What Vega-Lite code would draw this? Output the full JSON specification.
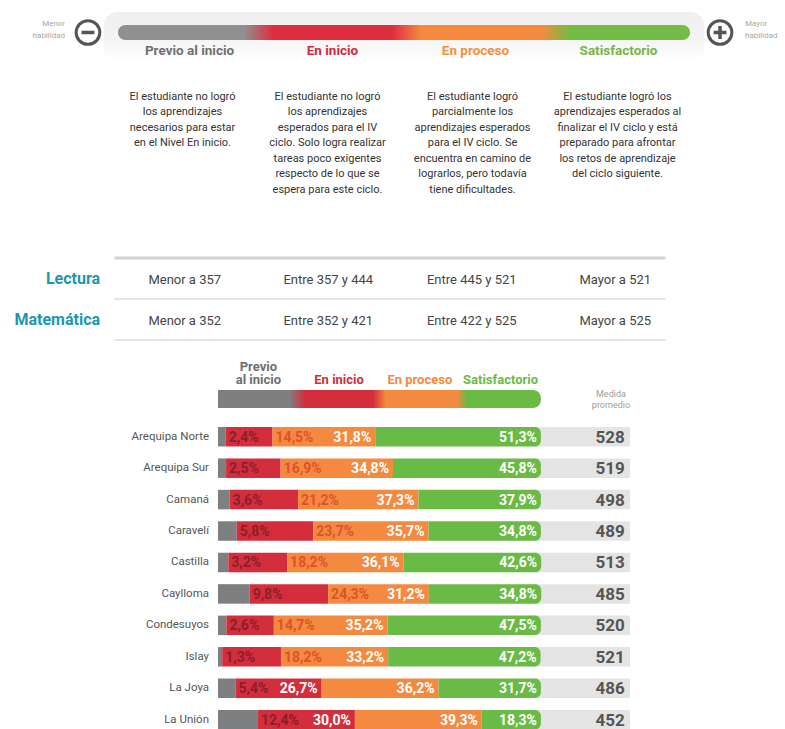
{
  "$schema": "https://vega.github.io/schema/vega-lite/v6.json",
  "padding": 0,
  "spacing": 0,
  "bounds": "flush",
  "background": "white",
  "config": {
    "view": {"stroke": null},
    "font": "Roboto, Liberation Sans, sans-serif"
  },
  "resolve": {"scale": {"x": "independent", "y": "independent", "color": "independent"}},
  "datasets": {
    "niveles": [
      {"nivel": "Previo al inicio", "orden": 0, "descripcion": "El estudiante no logró\nlos aprendizajes\nnecesarios para estar\nen el Nivel En inicio."},
      {"nivel": "En inicio", "orden": 1, "descripcion": "El estudiante no logró\nlos aprendizajes\nesperados para el IV\nciclo. Solo logra realizar\ntareas poco exigentes\nrespecto de lo que se\nespera para este ciclo."},
      {"nivel": "En proceso", "orden": 2, "descripcion": "El estudiante logró\nparcialmente los\naprendizajes esperados\npara el IV ciclo. Se\nencuentra en camino de\nlograrlos, pero todavía\ntiene dificultades."},
      {"nivel": "Satisfactorio", "orden": 3, "descripcion": "El estudiante logró los\naprendizajes esperados al\nfinalizar el IV ciclo y está\npreparado para afrontar\nlos retos de aprendizaje\ndel ciclo siguiente."}
    ],
    "umbrales": [
      {"area": "Lectura", "nivel": "Previo al inicio", "rango": "Menor a 357"},
      {"area": "Lectura", "nivel": "En inicio", "rango": "Entre 357 y 444"},
      {"area": "Lectura", "nivel": "En proceso", "rango": "Entre 445 y 521"},
      {"area": "Lectura", "nivel": "Satisfactorio", "rango": "Mayor a 521"},
      {"area": "Matemática", "nivel": "Previo al inicio", "rango": "Menor a 352"},
      {"area": "Matemática", "nivel": "En inicio", "rango": "Entre 352 y 421"},
      {"area": "Matemática", "nivel": "En proceso", "rango": "Entre 422 y 525"},
      {"area": "Matemática", "nivel": "Satisfactorio", "rango": "Mayor a 525"}
    ],
    "regiones": [
      {"region": "Arequipa Norte", "Previo al inicio": 2.4, "En inicio": 14.5, "En proceso": 31.8, "Satisfactorio": 51.3, "medida": 528},
      {"region": "Arequipa Sur", "Previo al inicio": 2.5, "En inicio": 16.9, "En proceso": 34.8, "Satisfactorio": 45.8, "medida": 519},
      {"region": "Camaná", "Previo al inicio": 3.6, "En inicio": 21.2, "En proceso": 37.3, "Satisfactorio": 37.9, "medida": 498},
      {"region": "Caravelí", "Previo al inicio": 5.8, "En inicio": 23.7, "En proceso": 35.7, "Satisfactorio": 34.8, "medida": 489},
      {"region": "Castilla", "Previo al inicio": 3.2, "En inicio": 18.2, "En proceso": 36.1, "Satisfactorio": 42.6, "medida": 513},
      {"region": "Caylloma", "Previo al inicio": 9.8, "En inicio": 24.3, "En proceso": 31.2, "Satisfactorio": 34.8, "medida": 485},
      {"region": "Condesuyos", "Previo al inicio": 2.6, "En inicio": 14.7, "En proceso": 35.2, "Satisfactorio": 47.5, "medida": 520},
      {"region": "Islay", "Previo al inicio": 1.3, "En inicio": 18.2, "En proceso": 33.2, "Satisfactorio": 47.2, "medida": 521},
      {"region": "La Joya", "Previo al inicio": 5.4, "En inicio": 26.7, "En proceso": 36.2, "Satisfactorio": 31.7, "medida": 486},
      {"region": "La Unión", "Previo al inicio": 12.4, "En inicio": 30.0, "En proceso": 39.3, "Satisfactorio": 18.3, "medida": 452}
    ]
  },
  "vconcat": [
    {
      "width": 785,
      "height": 75,
      "data": {"name": "niveles"},
      "transform": [{"calculate": "datum.orden + 0.5", "as": "centro"}],
      "layer": [
        {
          "transform": [{"filter": "datum.orden == 0"}],
          "mark": {"type": "rect", "cornerRadius": 14, "fill": {"gradient": "linear", "x1": 0, "y1": 0, "x2": 0, "y2": 1, "stops": [{"offset": 0, "color": "#efefef"}, {"offset": 0.6, "color": "#f5f5f5"}, {"offset": 1, "color": "#ffffff"}]}},
          "encoding": {
            "x": {"datum": -0.1, "type": "quantitative", "scale": {"domain": [0, 4], "range": [118, 690], "nice": false, "zero": false}, "axis": null},
            "x2": {"datum": 4.1},
            "y": {"datum": 12, "type": "quantitative", "scale": {"domain": [0, 75], "range": [0, 75], "nice": false, "zero": false}, "axis": null},
            "y2": {"datum": 62}
          }
        },
        {
          "transform": [{"filter": "datum.orden == 0"}],
          "mark": {"type": "rect", "cornerRadius": 7.5, "fill": {"gradient": "linear", "x1": 0, "y1": 0, "x2": 1, "y2": 0, "stops": [{"offset": 0, "color": "#8e9092"}, {"offset": 0.22, "color": "#8e9092"}, {"offset": 0.27, "color": "#de2f40"}, {"offset": 0.48, "color": "#de2f40"}, {"offset": 0.53, "color": "#f58a3f"}, {"offset": 0.74, "color": "#f58a3f"}, {"offset": 0.79, "color": "#74bc45"}, {"offset": 1, "color": "#74bc45"}]}},
          "encoding": {
            "x": {"datum": 0, "type": "quantitative"},
            "x2": {"datum": 4},
            "y": {"datum": 25, "type": "quantitative"},
            "y2": {"datum": 40}
          }
        },
        {
          "transform": [{"filter": "datum.orden == 0"}],
          "mark": {"type": "point", "shape": "circle", "size": 560, "filled": false, "fill": "white", "fillOpacity": 1, "stroke": "#555555", "strokeWidth": 3, "opacity": 1},
          "encoding": {
            "x": {"datum": -0.21, "type": "quantitative"},
            "y": {"datum": 32.5, "type": "quantitative"}
          }
        },
        {
          "transform": [{"filter": "datum.orden == 0"}],
          "mark": {"type": "point", "shape": "circle", "size": 560, "filled": false, "fill": "white", "fillOpacity": 1, "stroke": "#555555", "strokeWidth": 3, "opacity": 1},
          "encoding": {
            "x": {"datum": 4.21, "type": "quantitative"},
            "y": {"datum": 32.5, "type": "quantitative"}
          }
        },
        {
          "transform": [{"filter": "datum.orden == 0"}],
          "mark": {"type": "rule", "stroke": "#555555", "strokeWidth": 3.5},
          "encoding": {
            "x": {"datum": -0.255, "type": "quantitative"},
            "x2": {"datum": -0.165},
            "y": {"datum": 32.5, "type": "quantitative"}
          }
        },
        {
          "transform": [{"filter": "datum.orden == 0"}],
          "mark": {"type": "rule", "stroke": "#555555", "strokeWidth": 3.5},
          "encoding": {
            "x": {"datum": 4.165, "type": "quantitative"},
            "x2": {"datum": 4.255},
            "y": {"datum": 32.5, "type": "quantitative"}
          }
        },
        {
          "transform": [{"filter": "datum.orden == 0"}],
          "mark": {"type": "rule", "stroke": "#555555", "strokeWidth": 3.5},
          "encoding": {
            "x": {"datum": 4.21, "type": "quantitative"},
            "y": {"datum": 26, "type": "quantitative"},
            "y2": {"datum": 39}
          }
        },
        {
          "transform": [{"filter": "datum.orden == 0"}],
          "mark": {"type": "text", "align": "right", "baseline": "middle", "fontSize": 8, "lineHeight": 12, "color": "#a8a8a8"},
          "encoding": {
            "x": {"datum": -0.37, "type": "quantitative"},
            "y": {"datum": 24, "type": "quantitative"},
            "text": {"value": ["Menor", "habilidad"]}
          }
        },
        {
          "transform": [{"filter": "datum.orden == 0"}],
          "mark": {"type": "text", "align": "left", "baseline": "middle", "fontSize": 8, "lineHeight": 12, "color": "#a8a8a8"},
          "encoding": {
            "x": {"datum": 4.385, "type": "quantitative"},
            "y": {"datum": 24, "type": "quantitative"},
            "text": {"value": ["Mayor", "habilidad"]}
          }
        },
        {
          "mark": {"type": "text", "align": "center", "baseline": "middle", "fontSize": 13.5, "fontWeight": "bold"},
          "encoding": {
            "x": {"field": "centro", "type": "quantitative"},
            "y": {"datum": 51, "type": "quantitative"},
            "text": {"field": "nivel"},
            "color": {"field": "nivel", "type": "nominal", "scale": {"domain": ["Previo al inicio", "En inicio", "En proceso", "Satisfactorio"], "range": ["#6f7072", "#d8283f", "#f5903f", "#78b44a"]}, "legend": null}
          }
        }
      ]
    },
    {
      "width": 785,
      "height": 170,
      "data": {"name": "niveles"},
      "transform": [{"calculate": "datum.orden + 0.5", "as": "centro"}],
      "mark": {"type": "text", "align": "center", "baseline": "top", "fontSize": 11, "lineHeight": 15.5, "lineBreak": "\n", "color": "#333333"},
      "encoding": {
        "x": {"field": "centro", "type": "quantitative", "scale": {"domain": [0, 4], "range": [110, 690], "nice": false, "zero": false}, "axis": null},
        "y": {"datum": 15.5, "type": "quantitative", "scale": {"domain": [0, 170], "range": [0, 170], "nice": false, "zero": false}, "axis": null},
        "text": {"field": "descripcion"}
      }
    },
    {
      "width": 785,
      "height": 100,
      "data": {"name": "umbrales"},
      "transform": [
        {"calculate": "indexof(['Previo al inicio','En inicio','En proceso','Satisfactorio'], datum.nivel)", "as": "orden"},
        {"calculate": "datum.orden + 0.5", "as": "centro"}
      ],
      "layer": [
        {
          "transform": [{"filter": "datum.orden == 0 && datum.area == 'Lectura'"}],
          "mark": {"type": "rule", "stroke": "#d2d2d2", "strokeWidth": 3},
          "encoding": {
            "x": {"datum": 0.01, "type": "quantitative", "scale": {"domain": [0, 4], "range": [113, 687], "nice": false, "zero": false}, "axis": null},
            "x2": {"datum": 3.85},
            "y": {"field": "area", "type": "nominal", "bandPosition": 0, "scale": {"domain": ["Lectura", "Matemática"], "range": [13, 95], "paddingInner": 0, "paddingOuter": 0}, "axis": null}
          }
        },
        {
          "transform": [{"filter": "datum.orden == 0"}],
          "mark": {"type": "rule", "stroke": "#dcdcdc", "strokeWidth": 1.5},
          "encoding": {
            "x": {"datum": 0.01, "type": "quantitative"},
            "x2": {"datum": 3.85},
            "y": {"field": "area", "type": "nominal", "bandPosition": 1}
          }
        },
        {
          "transform": [{"filter": "datum.orden == 0"}],
          "mark": {"type": "text", "align": "right", "baseline": "middle", "fontSize": 16, "fontWeight": "bold", "color": "#1b98ad"},
          "encoding": {
            "x": {"datum": -0.09, "type": "quantitative"},
            "y": {"field": "area", "type": "nominal"},
            "text": {"field": "area"}
          }
        },
        {
          "mark": {"type": "text", "align": "center", "baseline": "middle", "fontSize": 13, "color": "#454545", "dy": 1.5},
          "encoding": {
            "x": {"field": "centro", "type": "quantitative"},
            "y": {"field": "area", "type": "nominal"},
            "text": {"field": "rango"}
          }
        }
      ]
    },
    {
      "width": 785,
      "height": 75.8,
      "data": {"name": "niveles"},
      "transform": [
        {"calculate": "datum.orden * 25 + 12.5", "as": "centro"},
        {"calculate": "datum.orden == 0 ? ['Previo', 'al inicio'] : datum.nivel", "as": "rotulo"}
      ],
      "layer": [
        {
          "transform": [{"filter": "datum.orden == 0"}],
          "mark": {"type": "rect", "cornerRadiusTopRight": 8, "cornerRadiusBottomRight": 8, "fill": {"gradient": "linear", "x1": 0, "y1": 0, "x2": 1, "y2": 0, "stops": [{"offset": 0, "color": "#7d7f80"}, {"offset": 0.22, "color": "#7d7f80"}, {"offset": 0.27, "color": "#d42d3c"}, {"offset": 0.48, "color": "#d42d3c"}, {"offset": 0.52, "color": "#f48a3f"}, {"offset": 0.74, "color": "#f48a3f"}, {"offset": 0.77, "color": "#6aba46"}, {"offset": 1, "color": "#6aba46"}]}},
          "encoding": {
            "x": {"datum": 0, "type": "quantitative", "scale": {"domain": [0, 127.6], "range": [218, 630], "nice": false, "zero": false}, "axis": null},
            "x2": {"datum": 100},
            "y": {"datum": 45, "type": "quantitative", "scale": {"domain": [0, 75.8], "range": [0, 75.8], "nice": false, "zero": false}, "axis": null},
            "y2": {"datum": 63}
          }
        },
        {
          "transform": [{"filter": "datum.orden == 0"}],
          "mark": {"type": "text", "align": "center", "baseline": "middle", "fontSize": 13, "fontWeight": "bold", "lineHeight": 13.5},
          "encoding": {
            "x": {"field": "centro", "type": "quantitative"},
            "y": {"datum": 21.5, "type": "quantitative"},
            "text": {"field": "rotulo"},
            "color": {"field": "nivel", "type": "nominal", "scale": {"domain": ["Previo al inicio", "En inicio", "En proceso", "Satisfactorio"], "range": ["#6d6e70", "#d42d3c", "#f48a3f", "#6aba46"]}, "legend": null}
          }
        },
        {
          "transform": [{"filter": "datum.orden > 0"}],
          "mark": {"type": "text", "align": "center", "baseline": "middle", "fontSize": 13, "fontWeight": "bold"},
          "encoding": {
            "x": {"field": "centro", "type": "quantitative"},
            "y": {"datum": 35, "type": "quantitative"},
            "text": {"field": "rotulo"},
            "color": {"field": "nivel", "type": "nominal", "legend": null}
          }
        },
        {
          "transform": [{"filter": "datum.orden == 0"}],
          "mark": {"type": "text", "align": "center", "baseline": "middle", "fontSize": 9, "lineHeight": 10.5, "color": "#9d9d9d"},
          "encoding": {
            "x": {"datum": 121.7, "type": "quantitative"},
            "y": {"datum": 49, "type": "quantitative"},
            "text": {"value": ["Medida", "promedio"]}
          }
        }
      ]
    },
    {
      "width": 785,
      "height": 314.4,
      "data": {"name": "regiones"},
      "transform": [
        {"fold": ["Previo al inicio", "En inicio", "En proceso", "Satisfactorio"], "as": ["nivel", "pct"]},
        {"calculate": "indexof(['Previo al inicio','En inicio','En proceso','Satisfactorio'], datum.nivel)", "as": "orden"},
        {"stack": "pct", "groupby": ["region"], "sort": [{"field": "orden", "order": "ascending"}], "as": ["ini", "fin"]},
        {"calculate": "replace(format(datum.pct, '.1f'), '.', ',') + '%'", "as": "etiqueta"}
      ],
      "layer": [
        {
          "transform": [{"filter": "datum.orden == 0"}],
          "mark": {"type": "rect", "fill": "#e4e4e4"},
          "encoding": {
            "x": {"datum": 97, "type": "quantitative", "scale": {"domain": [0, 127.6], "range": [218, 630], "nice": false, "zero": false}, "axis": null},
            "x2": {"datum": 127.6},
            "y": {"field": "region", "type": "nominal", "scale": {"domain": ["Arequipa Norte", "Arequipa Sur", "Camaná", "Caravelí", "Castilla", "Caylloma", "Condesuyos", "Islay", "La Joya", "La Unión"], "range": [0, 314.4], "paddingInner": 0.38, "paddingOuter": 0.19}, "axis": null}
          }
        },
        {
          "transform": [{"filter": "datum.orden < 3"}],
          "mark": {"type": "rect"},
          "encoding": {
            "x": {"field": "ini", "type": "quantitative"},
            "x2": {"field": "fin"},
            "y": {"field": "region", "type": "nominal"},
            "color": {"field": "nivel", "type": "nominal", "scale": {"domain": ["Previo al inicio", "En inicio", "En proceso", "Satisfactorio"], "range": ["#7d7f80", "#d42d3c", "#f48a3f", "#6aba46"]}, "legend": null}
          }
        },
        {
          "transform": [{"filter": "datum.orden == 3"}],
          "mark": {"type": "rect", "cornerRadiusTopRight": 6, "cornerRadiusBottomRight": 6},
          "encoding": {
            "x": {"field": "ini", "type": "quantitative"},
            "x2": {"field": "fin"},
            "y": {"field": "region", "type": "nominal"},
            "color": {"field": "nivel", "type": "nominal", "legend": null}
          }
        },
        {
          "transform": [{"filter": "datum.orden == 0"}],
          "mark": {"type": "text", "align": "right", "baseline": "middle", "fontSize": 11.5, "color": "#555555", "dx": -9},
          "encoding": {
            "x": {"datum": 0, "type": "quantitative"},
            "y": {"field": "region", "type": "nominal"},
            "text": {"field": "region"}
          }
        },
        {
          "transform": [{"filter": "datum.orden == 0"}],
          "mark": {"type": "text", "align": "right", "baseline": "middle", "fontSize": 17, "fontWeight": "bold", "color": "#555555", "dy": 1},
          "encoding": {
            "x": {"datum": 126, "type": "quantitative"},
            "y": {"field": "region", "type": "nominal"},
            "text": {"field": "medida"}
          }
        },
        {
          "transform": [{"filter": "datum.orden == 0 || (datum.orden == 1 && datum.pct <= 25)"}],
          "mark": {"type": "text", "align": "left", "baseline": "middle", "fontSize": 14, "fontWeight": "bold", "dx": 3, "dy": 1},
          "encoding": {
            "x": {"field": "fin", "type": "quantitative"},
            "y": {"field": "region", "type": "nominal"},
            "text": {"field": "etiqueta"},
            "color": {"condition": {"test": "datum.orden == 0", "value": "#8a1f2c"}, "value": "#e0502e"}
          }
        },
        {
          "transform": [{"filter": "datum.orden >= 2 || (datum.orden == 1 && datum.pct > 25)"}],
          "mark": {"type": "text", "align": "right", "baseline": "middle", "fontSize": 14, "fontWeight": "bold", "dx": -4, "dy": 1, "color": "#ffffff"},
          "encoding": {
            "x": {"field": "fin", "type": "quantitative"},
            "y": {"field": "region", "type": "nominal"},
            "text": {"field": "etiqueta"}
          }
        }
      ]
    }
  ]
}
